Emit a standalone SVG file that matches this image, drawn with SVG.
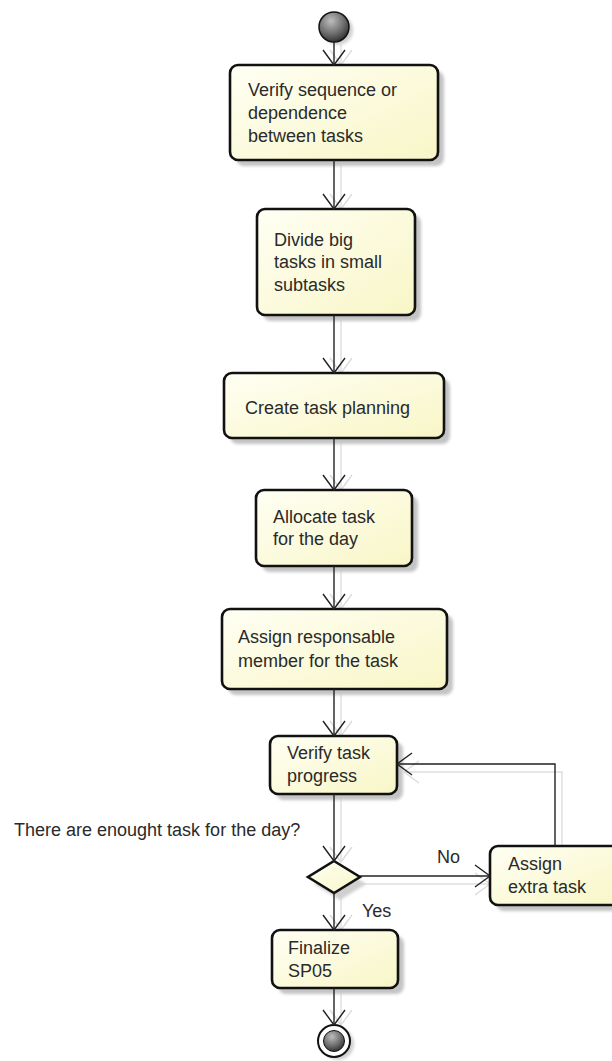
<svg xmlns="http://www.w3.org/2000/svg" width="612" height="1061" viewBox="0 0 612 1061">
  <defs>
    <linearGradient id="boxFill" x1="0" y1="0" x2="1" y2="1">
      <stop offset="0" stop-color="#fffff4"/>
      <stop offset="1" stop-color="#f8f6c6"/>
    </linearGradient>
    <radialGradient id="ballFill" cx="0.4" cy="0.3" r="0.75">
      <stop offset="0" stop-color="#bdbdbd"/>
      <stop offset="0.6" stop-color="#6a6a6a"/>
      <stop offset="1" stop-color="#2a2a2a"/>
    </radialGradient>
    <filter id="soft" x="-20%" y="-20%" width="140%" height="140%">
      <feGaussianBlur stdDeviation="1.6"/>
    </filter>
    <marker id="open" markerWidth="20" markerHeight="26" refX="16" refY="12" orient="auto" markerUnits="userSpaceOnUse">
      <path d="M1,1 L16,12 L1,23" fill="none" stroke="#222" stroke-width="1.4"/>
    </marker>
    <marker id="openShadow" markerWidth="20" markerHeight="26" refX="16" refY="12" orient="auto" markerUnits="userSpaceOnUse">
      <path d="M1,1 L16,12 L1,23" fill="none" stroke="#dcdcdc" stroke-width="1.4"/>
    </marker>
  </defs>
  <style>
    .box { fill: url(#boxFill); stroke: #111; stroke-width: 2.6; }
    .shadow { fill: #c4c4c4; filter: url(#soft); }
    .lbl { font-family: "Liberation Sans", Arial, sans-serif; font-size: 18px; fill: #2a2a2a; }
    .edge { fill: none; stroke: #222; stroke-width: 1.4; marker-end: url(#open); }
    .edgeShadow { fill: none; stroke: #dedede; stroke-width: 1.4; marker-end: url(#openShadow); }
  </style>

  <rect width="612" height="1061" fill="#ffffff"/>

  <!-- connector shadows -->
  <g id="connector-shadows">
    <path class="edgeShadow" d="M341,44 V65"/>
    <path class="edgeShadow" d="M341,162 V209"/>
    <path class="edgeShadow" d="M341,317 V373"/>
    <path class="edgeShadow" d="M341,440 V490"/>
    <path class="edgeShadow" d="M341,568 V609"/>
    <path class="edgeShadow" d="M341,691 V736"/>
    <path class="edgeShadow" d="M341,796 V862"/>
    <path class="edgeShadow" d="M341,893 V930"/>
    <path class="edgeShadow" d="M341,990 V1025"/>
    <path class="edgeShadow" d="M362,884 H490"/>
    <path class="edgeShadow" d="M562,846 V772 H404"/>
  </g>

  <!-- initial node -->
  <g id="start">
    <circle cx="338" cy="30" r="15" fill="#d0d0d0" filter="url(#soft)"/>
    <circle cx="334" cy="27" r="15" fill="url(#ballFill)" stroke="#111" stroke-width="1.5"/>
  </g>

  <g id="n1">
    <rect class="shadow" x="236" y="71" width="208" height="95" rx="8"/>
    <rect class="box" x="230" y="65" width="208" height="95" rx="8"/>
    <text class="lbl" x="248" y="96">Verify sequence or</text>
    <text class="lbl" x="248" y="119">dependence</text>
    <text class="lbl" x="248" y="142">between tasks</text>
  </g>

  <g id="n2">
    <rect class="shadow" x="263" y="215" width="158" height="106" rx="8"/>
    <rect class="box" x="257" y="209" width="158" height="106" rx="8"/>
    <text class="lbl" x="274" y="246">Divide big</text>
    <text class="lbl" x="274" y="268">tasks in small</text>
    <text class="lbl" x="274" y="291">subtasks</text>
  </g>

  <g id="n3">
    <rect class="shadow" x="230" y="379" width="220" height="65" rx="8"/>
    <rect class="box" x="224" y="373" width="220" height="65" rx="8"/>
    <text class="lbl" x="245" y="414">Create task planning</text>
  </g>

  <g id="n4">
    <rect class="shadow" x="262" y="496" width="156" height="76" rx="8"/>
    <rect class="box" x="256" y="490" width="156" height="76" rx="8"/>
    <text class="lbl" x="273" y="523">Allocate task</text>
    <text class="lbl" x="273" y="545">for the day</text>
  </g>

  <g id="n5">
    <rect class="shadow" x="228" y="615" width="225" height="80" rx="8"/>
    <rect class="box" x="222" y="609" width="225" height="80" rx="8"/>
    <text class="lbl" x="238" y="643">Assign responsable</text>
    <text class="lbl" x="238" y="667">member for the task</text>
  </g>

  <g id="n6">
    <rect class="shadow" x="276" y="742" width="127" height="58" rx="8"/>
    <rect class="box" x="270" y="736" width="127" height="58" rx="8"/>
    <text class="lbl" x="287" y="759">Verify task</text>
    <text class="lbl" x="287" y="782">progress</text>
  </g>

  <g id="decision">
    <polygon points="340,868 366,884 340,900 314,884" fill="#cfcfcf" filter="url(#soft)"/>
    <polygon points="334,861 360,877 334,893 308,877" fill="url(#boxFill)" stroke="#111" stroke-width="2.6" stroke-linejoin="miter"/>
    <text class="lbl" x="14" y="836">There are enought task for the day?</text>
  </g>

  <g id="n7">
    <rect class="shadow" x="496" y="852" width="130" height="59" rx="8"/>
    <rect class="box" x="490" y="846" width="130" height="59" rx="8"/>
    <text class="lbl" x="508" y="870">Assign</text>
    <text class="lbl" x="508" y="893">extra task</text>
  </g>

  <g id="n8">
    <rect class="shadow" x="278" y="936" width="126" height="58" rx="8"/>
    <rect class="box" x="272" y="930" width="126" height="58" rx="8"/>
    <text class="lbl" x="288" y="954">Finalize</text>
    <text class="lbl" x="288" y="977">SP05</text>
  </g>

  <!-- final node -->
  <g id="end">
    <circle cx="338" cy="1044" r="16" fill="#d0d0d0" filter="url(#soft)"/>
    <circle cx="334" cy="1041" r="16" fill="#ffffff" stroke="#111" stroke-width="2"/>
    <circle cx="334" cy="1041" r="10.5" fill="url(#ballFill)" stroke="#111" stroke-width="1"/>
  </g>

  <!-- control flows -->
  <g id="connectors">
    <path class="edge" d="M334,42 V65"/>
    <path class="edge" d="M334,160 V209"/>
    <path class="edge" d="M334,315 V373"/>
    <path class="edge" d="M334,438 V490"/>
    <path class="edge" d="M334,566 V609"/>
    <path class="edge" d="M334,689 V736"/>
    <path class="edge" d="M334,794 V861"/>
    <path class="edge" d="M334,893 V930"/>
    <path class="edge" d="M334,988 V1025"/>
    <path class="edge" d="M360,876 H490"/>
    <path class="edge" d="M555,846 V764 H397"/>
    <text class="lbl" x="437" y="863">No</text>
    <text class="lbl" x="362" y="917">Yes</text>
  </g>
</svg>
